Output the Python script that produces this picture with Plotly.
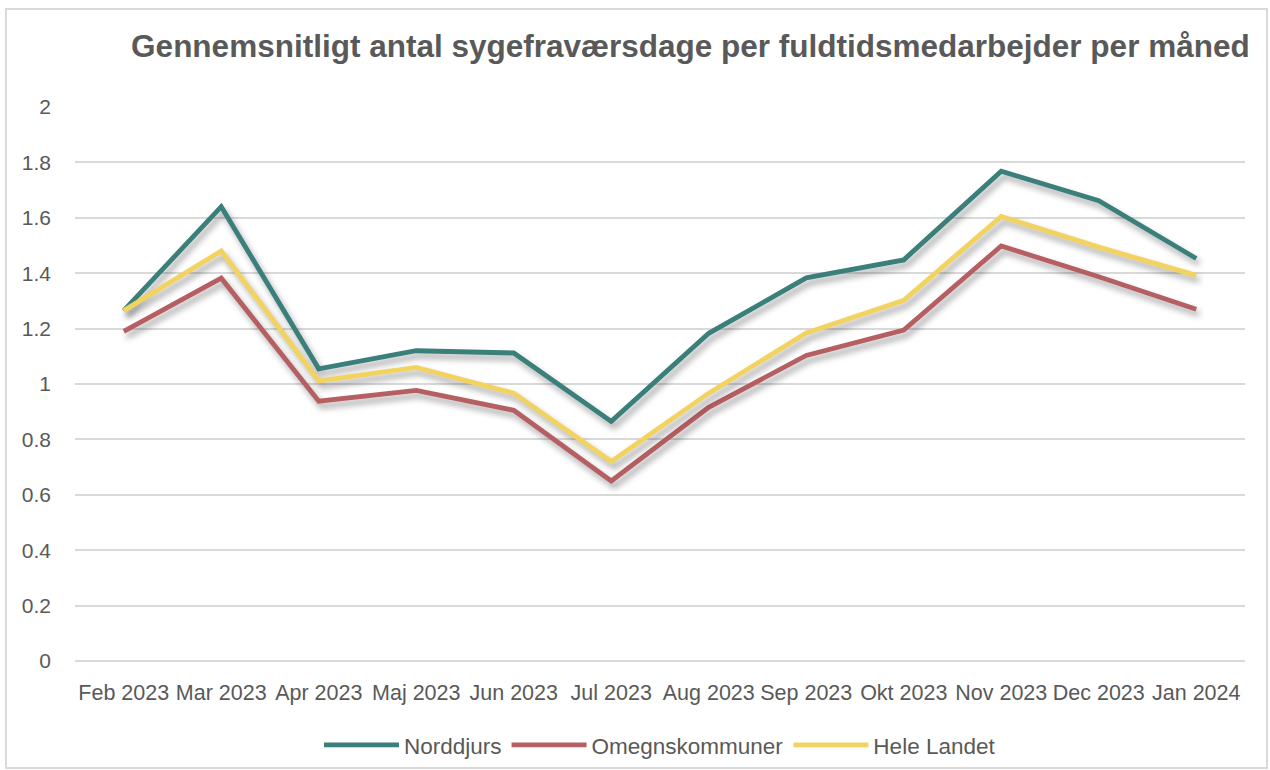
import plotly.graph_objects as go

months = ["Feb 2023", "Mar 2023", "Apr 2023", "Maj 2023", "Jun 2023", "Jul 2023",
          "Aug 2023", "Sep 2023", "Okt 2023", "Nov 2023", "Dec 2023", "Jan 2024"]
norddjurs = [1.265, 1.64, 1.055, 1.12, 1.112, 0.865, 1.183, 1.383, 1.448, 1.768, 1.662, 1.453]
omegn = [1.19, 1.382, 0.938, 0.977, 0.905, 0.65, 0.916, 1.103, 1.195, 1.498, 1.387, 1.27]
hele = [1.265, 1.48, 1.011, 1.06, 0.967, 0.72, 0.967, 1.184, 1.302, 1.605, 1.494, 1.392]

series = [("Norddjurs", norddjurs, "#3A7F79"),
          ("Omegnskommuner", omegn, "#B55F62"),
          ("Hele Landet", hele, "#F2D35F")]

FONT = "Liberation Sans"
GREY = "#595959"

fig = go.Figure()
for name, vals, col in series:
    fig.add_trace(go.Scatter(x=months, y=vals, name=name, mode="lines",
                             line=dict(color=col, width=4.8)))

fig.update_layout(
    width=1270, height=770,
    margin=dict(l=75, r=25, t=107, b=109, autoexpand=False),
    paper_bgcolor="white", plot_bgcolor="white",
    font=dict(family=FONT, size=21, color=GREY),
    title=dict(text="<b>Gennemsnitligt antal sygefraværsdage per fuldtidsmedarbejder per måned</b>",
               x=0.984, xanchor="right", y=0.94, yanchor="middle",
               font=dict(family=FONT, size=31.5, color=GREY)),
    xaxis=dict(type="category", range=[-0.5, 11.5], showgrid=False, showline=False,
               ticks="", tickangle=0, ticklabelstandoff=16, automargin=False,
               tickfont=dict(size=21.5, color=GREY)),
    yaxis=dict(range=[0, 2], dtick=0.2, showgrid=True, gridcolor="#D9D9D9", gridwidth=1.5,
               zeroline=True, zerolinecolor="#D9D9D9", zerolinewidth=1.5,
               showline=False, ticks="", ticklabelstandoff=23, automargin=False,
               tickfont=dict(size=21, color=GREY)),
    legend=dict(orientation="h", x=0.5, xanchor="center", y=-0.152, yanchor="middle",
                font=dict(size=22.5, color=GREY), itemwidth=75),
    shapes=[dict(type="rect", xref="paper", yref="paper", x0=-0.059, x1=1.0188,
                 y0=-0.193, y1=1.177, line=dict(color="#D9D9D9", width=2))],
)

post = """
document.body.style.margin='0';
document.querySelectorAll('.scatterlayer .js-line').forEach(function(p){
  p.style.filter='drop-shadow(3px 5px 3px rgba(0,0,0,0.35))';
});
"""
fig.write_html("out.html", post_script=post, config={"displayModeBar": False})
